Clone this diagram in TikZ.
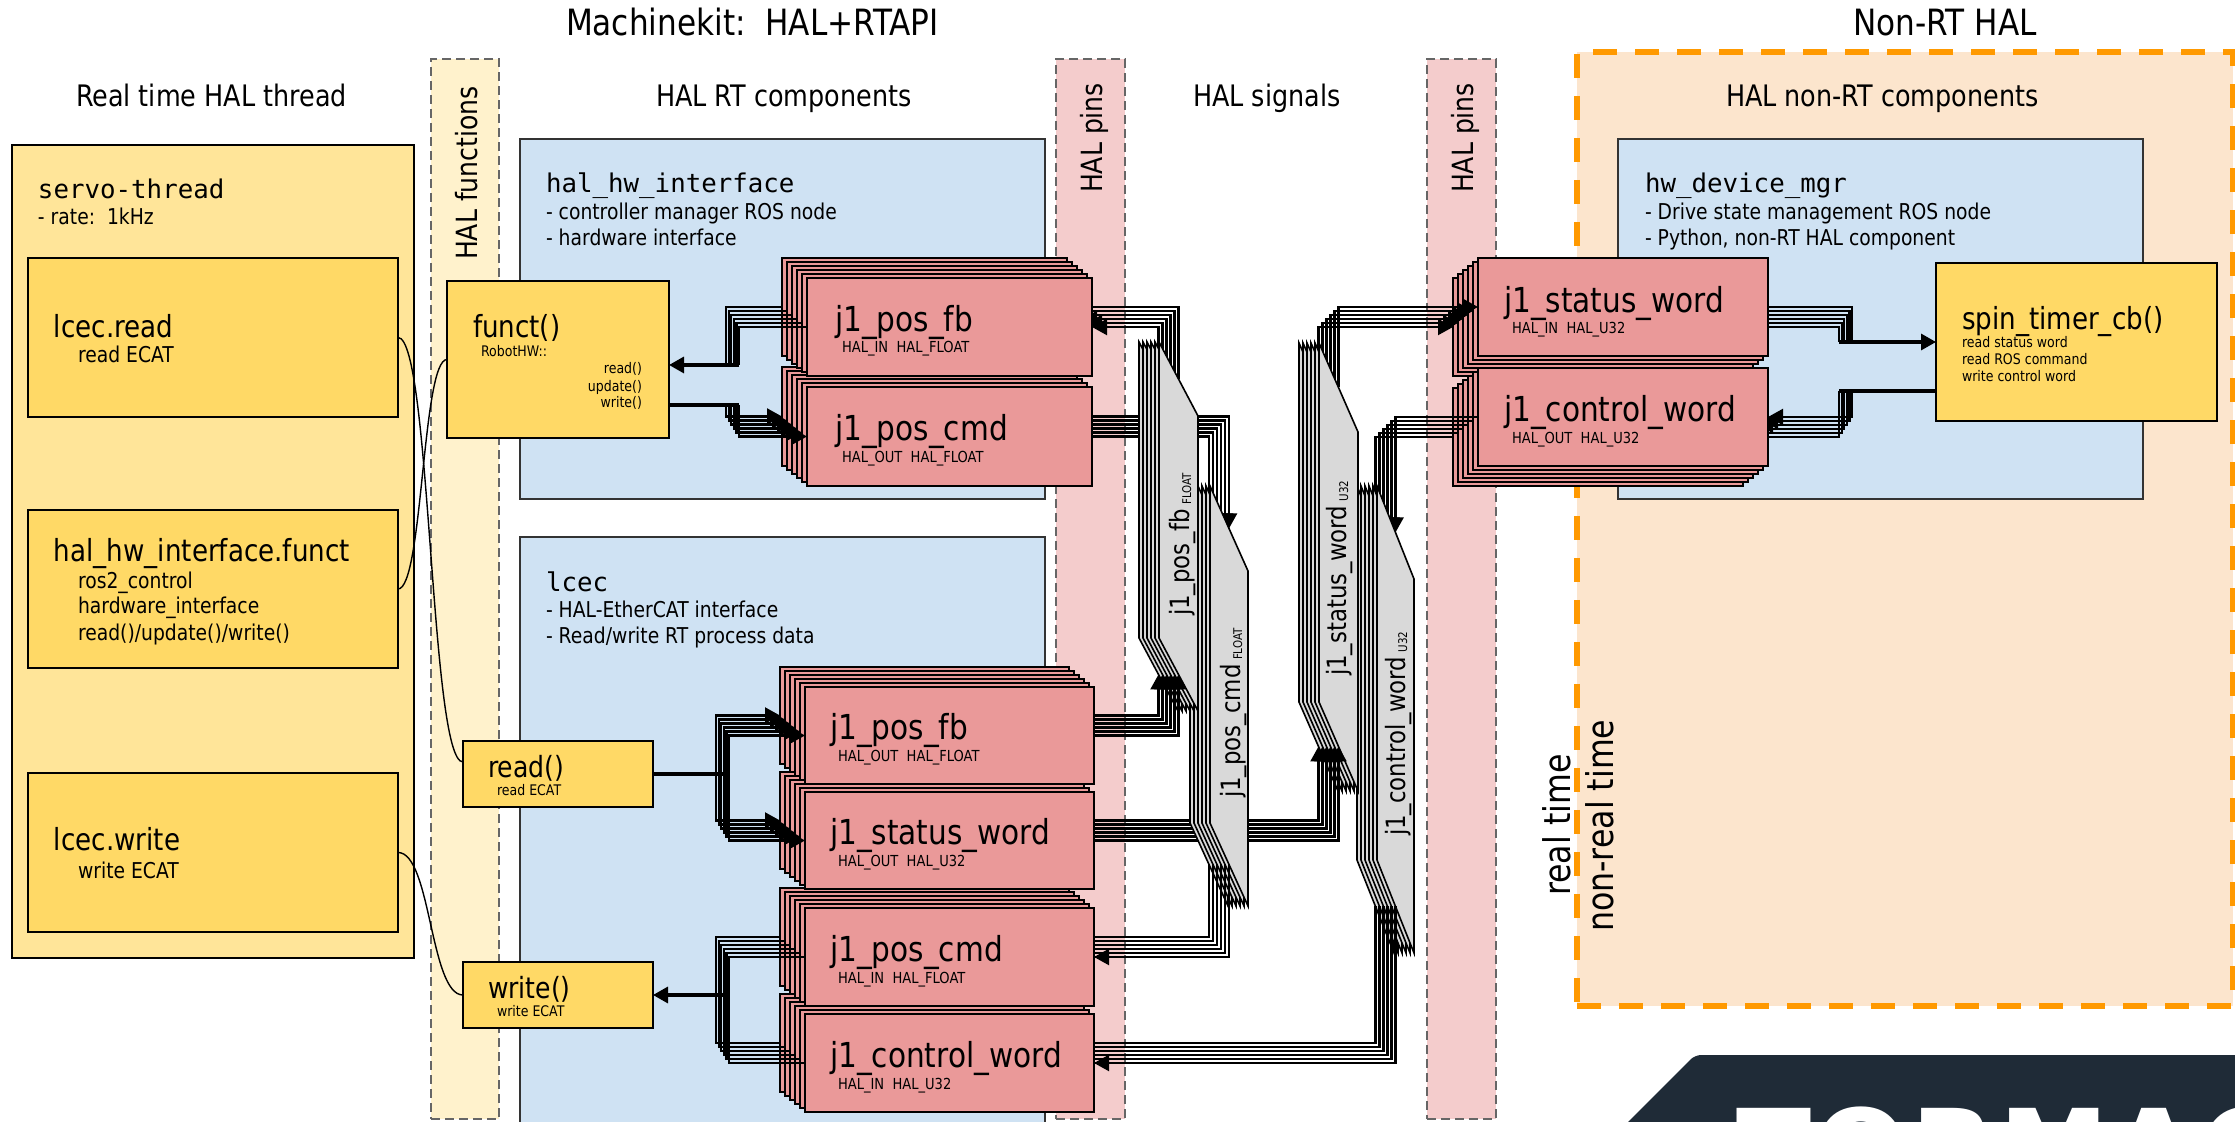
\documentclass[tikz,border=0pt]{standalone}
\usepackage{fontspec}
\setmainfont{DejaVu Sans}[FakeStretch=0.86]
\setmonofont{DejaVu Sans Mono}
\newfontfamily\logofont{DejaVu Sans}[LetterSpace=3]
\usepackage{xcolor}
\usetikzlibrary{arrows.meta,calc}
\definecolor{rtyellow}{HTML}{FFE599}
\definecolor{fnyellow}{HTML}{FFD966}
\definecolor{stripyellow}{HTML}{FFF2CC}
\definecolor{compblue}{HTML}{CFE2F3}
\definecolor{pinred}{HTML}{EA9999}
\definecolor{strippink}{HTML}{F4CCCC}
\definecolor{siggray}{HTML}{D9D9D9}
\definecolor{nonrtbg}{HTML}{FCE5CD}
\definecolor{nonrtdash}{HTML}{FF9900}
\definecolor{logodark}{HTML}{1F2B37}
\pgfdeclarelayer{wst0}\pgfdeclarelayer{wst1}\pgfdeclarelayer{wst2}
\pgfdeclarelayer{wst3}\pgfdeclarelayer{wst4}\pgfdeclarelayer{wst5}
\pgfdeclarelayer{st0}\pgfdeclarelayer{st1}\pgfdeclarelayer{st2}
\pgfdeclarelayer{st3}\pgfdeclarelayer{st4}\pgfdeclarelayer{st5}
\pgfdeclarelayer{signal}
\pgfsetlayers{main,wst0,st0,wst1,st1,wst2,st2,wst3,st3,wst4,st4,wst5,st5,signal}
\newcommand{\fsz}[1]{\fontsize{#1}{#1}\selectfont}
% six stacked parallelograms: name, xleft, xright, ytop, yshoulder, ybotleft, ybotright
\newcommand{\sigstack}[7]{%
  \foreach \i in {0,...,5}{
    \pgfmathsetmacro\dx{(\i-5)*4}
    \coordinate (#1t\i) at ({(#2+#3)/2+\dx},{(#4+#5)/2});
    \coordinate (#1b\i) at ({(#2+#3)/2+\dx},{(#6+#7)/2});
    \draw[sigbox,xshift=\dx*0.5pt] (#2,#4) -- (#3,#5) -- (#3,#7) -- (#2,#6) -- cycle;
  }}

\begin{document}
\begin{tikzpicture}[x=0.5pt,y=-0.5pt,
  >={Triangle[length=7.5pt,width=8pt]},
  wh/.style 2 args={minimum width=#1*0.5pt,minimum height=#2*0.5pt},
  boxnw/.style={anchor=north west,inner sep=0pt,outer sep=0pt},
  threadbox/.style={boxnw,draw=black,line width=1pt,fill=rtyellow},
  fnbox/.style={boxnw,draw=black,line width=1pt,fill=fnyellow},
  compbox/.style={boxnw,draw=black!80,line width=.75pt,fill=compblue},
  pinbox/.style={boxnw,draw=black,line width=1pt,fill=pinred},
  stripbox/.style={boxnw,draw=black!60,line width=.7pt,dash pattern=on 4.5pt off 2.5pt},
  sigbox/.style={draw=black,line width=.8pt,fill=siggray,miter limit=20},
  wire/.style={draw=black,line width=1.1pt},
  stem/.style={draw=black,line width=1.6pt},
  link/.style={draw=black,line width=.7pt},
  lbl/.style={anchor=base west,inner sep=0pt,outer sep=0pt},
  rotlbl/.style={lbl,rotate=90},
  head/.style={lbl,font=\fsz{18.1}},
  sub/.style={lbl,font=\fsz{14.8}},
  title/.style={lbl,font=\fsz{15.2}},
  code/.style={lbl,font=\ttfamily\fsz{12.9}},
  body/.style={lbl,font=\fsz{10.9}},
  tiny/.style={lbl,font=\fsz{7.3}},
  pinsub/.style={lbl,font=\fsz{7.6}},
  pinname/.style={lbl,font=\fsz{17.2}},
  signame/.style={rotlbl,font=\fsz{13.3}}]
  \useasboundingbox (0,0) rectangle (2235,1122);

  % backgrounds
  \node[boxnw,draw=nonrtdash,line width=2.6pt,fill=nonrtbg,dash pattern=on 12pt off 9pt,wh={656}{954}] (nonrt) at (1577,52) {};
  \node[stripbox,fill=stripyellow,wh={68}{1060}] (stripfn) at (431,59) {};
  \node[stripbox,fill=strippink,wh={69}{1060}] (strippina) at (1056,59) {};
  \node[stripbox,fill=strippink,wh={69}{1060}] (strippinb) at (1427,59) {};
  \node[compbox,wh={525}{360}] (hwiface) at (520,139) {};
  \node[compbox,wh={525}{590}] (lcec) at (520,537) {};
  \node[compbox,wh={525}{360}] (devmgr) at (1618,139) {};

  % logo
  \begin{scope}
    \clip (0,0) rectangle (2235,1122);
    \fill[logodark,rounded corners=3pt] (1695,1055) -- (2300,1055) -- (2300,1180) -- (1570,1180) -- cycle;
    \node[lbl,text=white,font=\logofont\bfseries\fsz{55}] (logotxt) at (1736,1188) {TORMAC};
  \end{scope}

  % thread column
  \node[threadbox,wh={402}{813}] (thread) at (12,145) {};
  \node[fnbox,wh={370}{159}] (tdread) at (28,258) {};
  \node[fnbox,wh={370}{158}] (tdfunct) at (28,510) {};
  \node[fnbox,wh={370}{159}] (tdwrite) at (28,773) {};
  \node[fnbox,wh={222}{157}] (funct) at (447,281) {};
  \node[fnbox,wh={190}{66}] (fnread) at (463,741) {};
  \node[fnbox,wh={190}{66}] (fnwrite) at (463,962) {};
  \node[fnbox,wh={281}{158}] (spin) at (1936,263) {};

  % headings
  \node[head] (hmk) at (566,36) {Machinekit:~~HAL+RTAPI};
  \node[head] (hnon) at (1853,36) {Non-RT HAL};
  \node[sub] (hthread) at (76,107) {Real time HAL thread};
  \node[sub] (hcomp) at (656,107) {HAL RT components};
  \node[sub] (hsig) at (1193,107) {HAL signals};
  \node[sub] (hnoncomp) at (1726,107) {HAL non-RT components};
  \node[rotlbl,font=\fsz{14.6}] (vfn) at (477,260) {HAL functions};
  \node[rotlbl,font=\fsz{14.6}] (vpina) at (1102,193) {HAL pins};
  \node[rotlbl,font=\fsz{14.6}] (vpinb) at (1473,193) {HAL pins};
  \node[rotlbl,font=\fsz{18.4}] (vrt) at (1570,896) {real time};
  \node[rotlbl,font=\fsz{18.4}] (vnrt) at (1613,932) {non-real time};

  % box texts
  \node[code] (tservo) at (38,199) {servo-thread};
  \node[body] (trate) at (38,225) {-~rate:~~1kHz};
  \node[title] (trd) at (54,338) {lcec.read};
  \node[body] (trdb) at (78,363) {read ECAT};
  \node[title] (tfu) at (54,562) {hal\_hw\_interface.funct};
  \node[body] (tfua) at (78,589) {ros2\_control};
  \node[body] (tfub) at (78,614) {hardware\_interface};
  \node[body] (tfuc) at (78,641) {read()/update()/write()};
  \node[title] (twr) at (54,851) {lcec.write};
  \node[body] (twrb) at (78,878) {write ECAT};
  \node[title] (tfn) at (473,338) {funct()};
  \node[tiny] (tfnb) at (481,357) {RobotHW::};
  \node[tiny,anchor=base east] (tfnc) at (642,374) {read()};
  \node[tiny,anchor=base east] (tfnd) at (642,392) {update()};
  \node[tiny,anchor=base east] (tfne) at (642,408) {write()};
  \node[lbl,font=\fsz{14.6}] (trdf) at (488,778) {read()};
  \node[tiny] (trdg) at (497,796) {read ECAT};
  \node[lbl,font=\fsz{14.6}] (twrf) at (488,999) {write()};
  \node[tiny] (twrg) at (497,1016) {write ECAT};
  \node[code] (thw) at (546,193) {hal\_hw\_interface};
  \node[body] (thwa) at (546,220) {-~controller manager ROS node};
  \node[body] (thwb) at (546,246) {-~hardware interface};
  \node[code] (tlc) at (546,592) {lcec};
  \node[body] (tlca) at (546,618) {-~HAL-EtherCAT interface};
  \node[body] (tlcb) at (546,644) {-~Read/write RT process data};
  \node[code] (tdv) at (1645,193) {hw\_device\_mgr};
  \node[body] (tdva) at (1645,220) {-~Drive state management ROS node};
  \node[body] (tdvb) at (1645,246) {-~Python, non-RT HAL component};
  \node[title] (tsp) at (1962,330) {spin\_timer\_cb()};
  \node[tiny] (tspa) at (1962,348) {read status word};
  \node[tiny] (tspb) at (1962,365) {read ROS command};
  \node[tiny] (tspc) at (1962,382) {write control word};

  % pin stacks, layer 5 in front
  \foreach \nm/\fx/\fy/\fw/\fh/\sy in {tfb/807/278/285/98/-4,tpc/807/387/285/99/-4,
      lfb/805/687/289/97/-4,lst/805/792/289/97/-4,lpc/805/908/289/98/-4,lcw/805/1014/289/98/-4,
      rsw/1478/258/290/98/4,rcw/1478/368/290/98/4}{
    \foreach \i in {0,...,5}{
      \begin{pgfonlayer}{st\i}
        \node[pinbox,wh={\fw}{\fh}] (\nm\i) at ({\fx-(5-\i)*5},{\fy+(5-\i)*\sy}) {};
      \end{pgfonlayer}
    }
  }
  \begin{pgfonlayer}{st5}
    \node[pinname] (ntfb) at (835,332) {j1\_pos\_fb};
    \node[pinsub] (stfb) at (842,353) {HAL\_IN~~HAL\_FLOAT};
    \node[pinname] (ntpc) at (835,441) {j1\_pos\_cmd};
    \node[pinsub] (stpc) at (842,463) {HAL\_OUT~~HAL\_FLOAT};
    \node[pinname] (nlfb) at (830,740) {j1\_pos\_fb};
    \node[pinsub] (slfb) at (838,762) {HAL\_OUT~~HAL\_FLOAT};
    \node[pinname] (nlst) at (830,845) {j1\_status\_word};
    \node[pinsub] (slst) at (838,867) {HAL\_OUT~~HAL\_U32};
    \node[pinname] (nlpc) at (830,962) {j1\_pos\_cmd};
    \node[pinsub] (slpc) at (838,984) {HAL\_IN~~HAL\_FLOAT};
    \node[pinname] (nlcw) at (830,1067) {j1\_control\_word};
    \node[pinsub] (slcw) at (838,1089) {HAL\_IN~~HAL\_U32};
    \node[pinname] (nrsw) at (1504,313) {j1\_status\_word};
    \node[pinsub] (srsw) at (1512,334) {HAL\_IN~~HAL\_U32};
    \node[pinname] (nrcw) at (1504,422) {j1\_control\_word};
    \node[pinsub] (srcw) at (1512,444) {HAL\_OUT~~HAL\_U32};
  \end{pgfonlayer}

  % signals, back pair first, with the wires that leave their lower ends
  \begin{pgfonlayer}{signal}
    \sigstack{sfour}{1377}{1414}{486}{579}{860}{953}
    \node[signame] (lsfour) at (1405,836) {j1\_control\_word\,{\raisebox{-1pt}{\fsz{6}U32}}};
    \foreach \i in {0,...,5}
      \draw[wire] (sfourb\i) |- (lcw5.east |- lcw\i.east);
    \sigstack{sthree}{1319}{1358}{343}{432}{702}{791}
    \node[signame] (lsthree) at (1346,676) {j1\_status\_word\,{\raisebox{-1pt}{\fsz{6}U32}}};
    \foreach \i in {0,...,5}
      \draw[wire,->] (lst5.east |- lst\i.east) -| (sthreeb\i);
    \sigstack{stwo}{1210}{1248}{486}{571}{823}{906}
    \node[signame] (lstwo) at (1240,798) {j1\_pos\_cmd\,{\raisebox{-1pt}{\fsz{6}FLOAT}}};
    \foreach \i in {0,...,5}
      \draw[wire] (stwob\i) |- (lpc5.east |- lpc\i.east);
    \sigstack{sone}{1159}{1198}{342}{416}{638}{711}
    \node[signame] (lsone) at (1189,616) {j1\_pos\_fb\,{\raisebox{-1pt}{\fsz{6}FLOAT}}};
    \foreach \i in {0,...,5}
      \draw[wire,->] (lfb5.east |- lfb\i.east) -| (soneb\i);
    \draw[wire,->] ($(lpc5.east)+(18,0)$) -- (lpc5.east);
    \draw[wire,->] ($(lcw5.east)+(18,0)$) -- (lcw5.east);
  \end{pgfonlayer}

  % bus points beside the function boxes
  \coordinate (busa) at (726,365);
  \coordinate (busb) at (726,405);
  \coordinate (busc) at (716,774);
  \coordinate (busd) at (716,995);
  \coordinate (buse) at (1839,342);
  \coordinate (busf) at (1839,391);
  \draw[stem,->] ($(busa)+(13,0)$) -- (busa -| funct.east);
  \draw[stem] (busb -| funct.east) -- ($(busb)+(13,0)$);
  \draw[stem] (busc -| fnread.east) -- ($(busc)+(13,0)$);
  \draw[stem,->] ($(busd)+(13,0)$) -- (busd -| fnwrite.east);
  \draw[stem,->] (buse) -- (buse -| spin.west);
  \draw[stem] (busf -| spin.west) -- (busf);

  % wires: sig tops and east sides go under the stacks
  \foreach \i in {0,...,5}{
    \pgfmathtruncatemacro\j{5-\i}
    \draw[wire,->] (sonet\j) |- (tfb\i.east);
    \draw[wire,->] (tpc\i.east) -| (stwot\j);
    \draw[wire] (rsw\i.east) -| ([xshift=\i*1.3pt]buse);
    \draw[wire,->] ([xshift=\i*1.3pt]busf) |- (rcw\i.east);
    \begin{pgfonlayer}{wst\i}
      \draw[wire] ([xshift=\i*1.3pt]busa) |- (tfb\i.west);
      \draw[wire,->] ([xshift=\i*1.3pt]busb) |- (tpc\i.west);
      \draw[wire,->] ([xshift=\i*1.3pt]busc) |- (lfb\i.west);
      \draw[wire,->] ([xshift=\i*1.3pt]busc) |- (lst\i.west);
      \draw[wire] ([xshift=\i*1.3pt]busd) |- (lpc\i.west);
      \draw[wire] ([xshift=\i*1.3pt]busd) |- (lcw\i.west);
      \draw[wire,->] (sthreet\i) |- (rsw\i.west);
      \draw[wire,->] (rcw\i.west) -| (sfourt\i);
    \end{pgfonlayer}
  }

  % thread functions to their HAL functions
  \draw[link] (tdread.east) .. controls +(33,0) and +(-33,0) .. ($(fnread.west)+(0,-12)$);
  \draw[link] (tdfunct.east) .. controls +(25,0) and +(-25,0) .. (funct.west);
  \draw[link] (tdwrite.east) .. controls +(33,0) and +(-33,0) .. (fnwrite.west);
\end{tikzpicture}
\end{document}
